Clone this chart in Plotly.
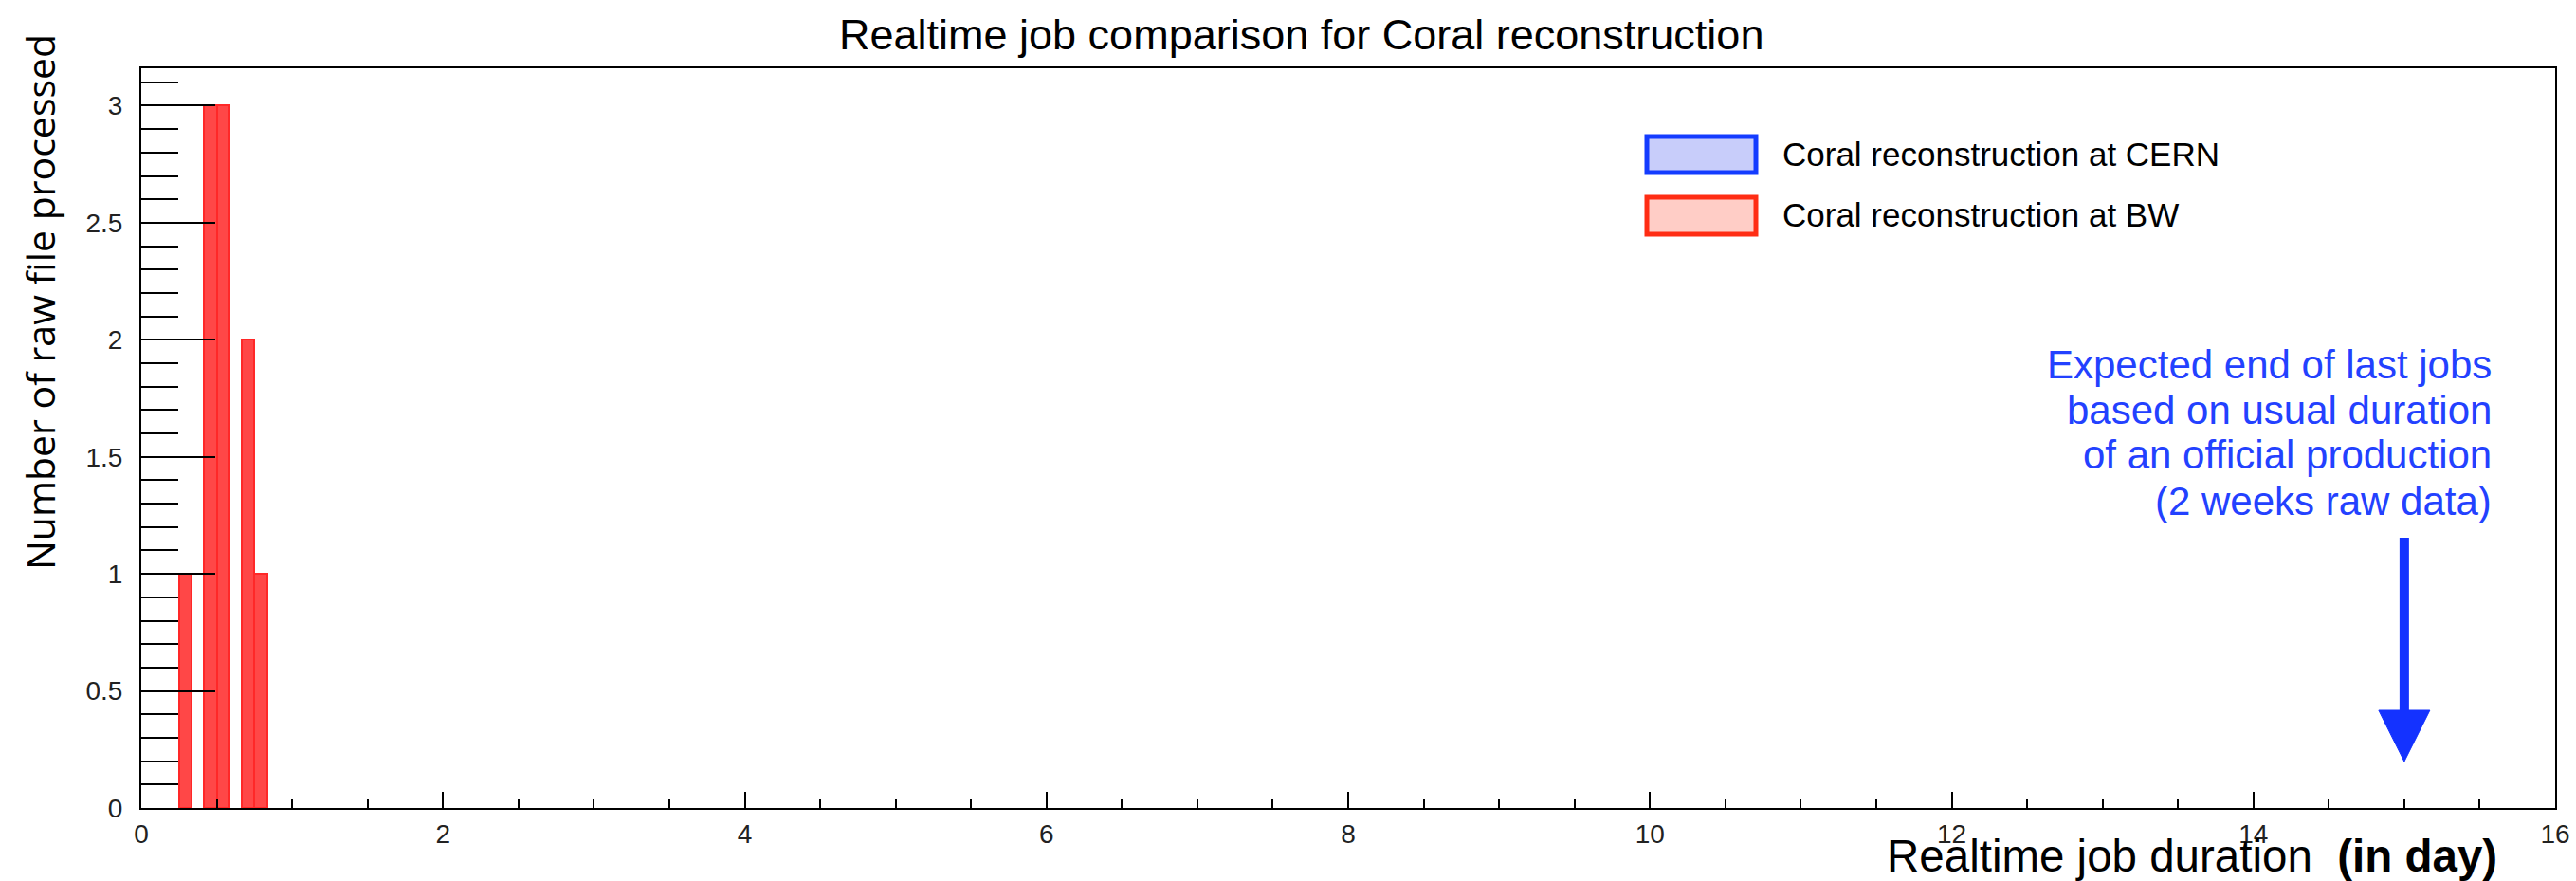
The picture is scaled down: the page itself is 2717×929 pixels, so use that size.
import plotly.graph_objects as go

# ---- data ----
bin_width_days = 1 / 12                      # 2-hour bins
bw_bin_centers = [0.2917, 0.4583, 0.5417, 0.7083, 0.7917]   # days
bw_counts = [1, 3, 3, 2, 1]
cern_bin_centers = []
cern_counts = []
x_ticks = [0, 2, 4, 6, 8, 10, 12, 14, 16]
y_ticks = [0, 0.5, 1, 1.5, 2, 2.5, 3]
y_tick_text = ["0", "0.5", "1", "1.5", "2", "2.5", "3"]
expected_end_day = 15
note_lines = ["Expected end of last jobs", "based on usual duration",
              "of an official production", "(2 weeks raw data)"]

W, H = 2717, 929
L, R, T, B = 149, 22, 72, 77
PW, PH = W - L - R, H - T - B
Y_MAX = 3.16


def px(xp):
    return (xp - L) / PW


def py(yp):
    return (H - B - yp) / PH


def ydata(yp):
    return (H - B - yp) / PH * Y_MAX


FONT = "Liberation Sans, Arial, Helvetica, sans-serif"
BLUE = "rgb(20,50,255)"

fig = go.Figure()
fig.add_trace(go.Bar(
    x=cern_bin_centers, y=cern_counts, width=bin_width_days,
    marker=dict(color="rgb(200,205,250)", line=dict(color="rgb(20,60,255)", width=2)),
    name="Coral reconstruction at CERN", showlegend=False))
fig.add_trace(go.Bar(
    x=bw_bin_centers, y=bw_counts, width=bin_width_days,
    marker=dict(color="rgba(255,0,0,0.72)", line=dict(color="rgb(255,40,40)", width=2)),
    name="Coral reconstruction at BW", showlegend=False))

fig.update_layout(
    width=W, height=H,
    margin=dict(l=L, r=R, t=T, b=B),
    paper_bgcolor="white", plot_bgcolor="white",
    bargap=0, barmode="overlay",
    font=dict(family=FONT, color="black"),
    showlegend=False,
)

fig.update_xaxes(
    range=[0, 16], tickvals=x_ticks, ticktext=[str(v) for v in x_ticks],
    ticks="inside", ticklen=17, tickwidth=2, tickcolor="black",
    minor=dict(dtick=0.5, ticks="inside", ticklen=9, tickwidth=2, tickcolor="black"),
    showline=True, linewidth=2, linecolor="black", mirror=True,
    showgrid=False, zeroline=False, automargin=False,
    tickfont=dict(size=28, family=FONT, color="#222"),
    ticklabelstandoff=1,
)
fig.update_yaxes(
    range=[0, Y_MAX], tickvals=y_ticks, ticktext=y_tick_text,
    ticks="inside", ticklen=78, tickwidth=2, tickcolor="black",
    minor=dict(dtick=0.1, ticks="inside", ticklen=39, tickwidth=2, tickcolor="black"),
    showline=True, linewidth=2, linecolor="black", mirror=True,
    showgrid=False, zeroline=False, automargin=False,
    tickfont=dict(size=28, family=FONT, color="#222"),
    ticklabelstandoff=12,
)

annotations = []
annotations.append(dict(
    text="Realtime job comparison for Coral reconstruction",
    xref="paper", yref="paper", x=px(1372), y=py(37), xanchor="center", yanchor="middle",
    showarrow=False, font=dict(size=45, family=FONT, color="black")))
annotations.append(dict(
    text="Realtime job duration  <b>(in day)</b>",
    xref="paper", yref="paper", x=px(2636), y=py(902), xanchor="right", yanchor="middle",
    showarrow=False, font=dict(size=47.5, family=FONT, color="black")))
annotations.append(dict(
    text="Number of raw file processed",
    xref="paper", yref="paper", x=px(42), y=py(319), xanchor="center", yanchor="middle",
    textangle=-90, showarrow=False,
    font=dict(size=41, family="Open Sans, DejaVu Sans, sans-serif", color="black")))
annotations.append(dict(
    text="Coral reconstruction at CERN",
    xref="paper", yref="paper", x=px(1878), y=py(162), xanchor="left", yanchor="middle",
    showarrow=False, font=dict(size=35, family=FONT, color="black")))
annotations.append(dict(
    text="Coral reconstruction at BW",
    xref="paper", yref="paper", x=px(1878), y=py(227), xanchor="left", yanchor="middle",
    showarrow=False, font=dict(size=35, family=FONT, color="black")))
note_centers_px = [384, 432, 480, 528]
for line, yc in zip(note_lines, note_centers_px):
    annotations.append(dict(
        text=line, xref="paper", yref="paper", x=px(2630), y=py(yc),
        xanchor="right", yanchor="middle", align="right", showarrow=False,
        font=dict(size=42, family=FONT, color="rgb(35,65,255)")))
fig.update_layout(annotations=annotations)

shapes = []
shapes.append(dict(type="rect", xref="paper", yref="paper",
                   x0=px(1737), x1=px(1852), y0=py(182), y1=py(144),
                   fillcolor="rgb(200,205,250)", line=dict(color="rgb(20,60,255)", width=5)))
shapes.append(dict(type="rect", xref="paper", yref="paper",
                   x0=px(1737), x1=px(1852), y0=py(247), y1=py(208),
                   fillcolor="rgb(255,205,198)", line=dict(color="rgb(255,45,20)", width=5)))
# arrow at the expected end
head_half_w = 27 / PW * 16
tip_y = ydata(803)
head_base_y = ydata(749)
shaft_top_y = ydata(567)
shapes.append(dict(type="line", xref="x", yref="y",
                   x0=expected_end_day, x1=expected_end_day, y0=shaft_top_y, y1=head_base_y - 0.02,
                   line=dict(color=BLUE, width=10)))
shapes.append(dict(type="path", xref="x", yref="y",
                   path=f"M {expected_end_day - head_half_w},{head_base_y} "
                        f"L {expected_end_day + head_half_w},{head_base_y} "
                        f"L {expected_end_day},{tip_y} Z",
                   fillcolor=BLUE, line=dict(color=BLUE, width=1)))
fig.update_layout(shapes=shapes)

fig.write_html("out.html",
               config={"displayModeBar": False},
               post_script="document.body.style.margin='0';document.body.style.padding='0';")
